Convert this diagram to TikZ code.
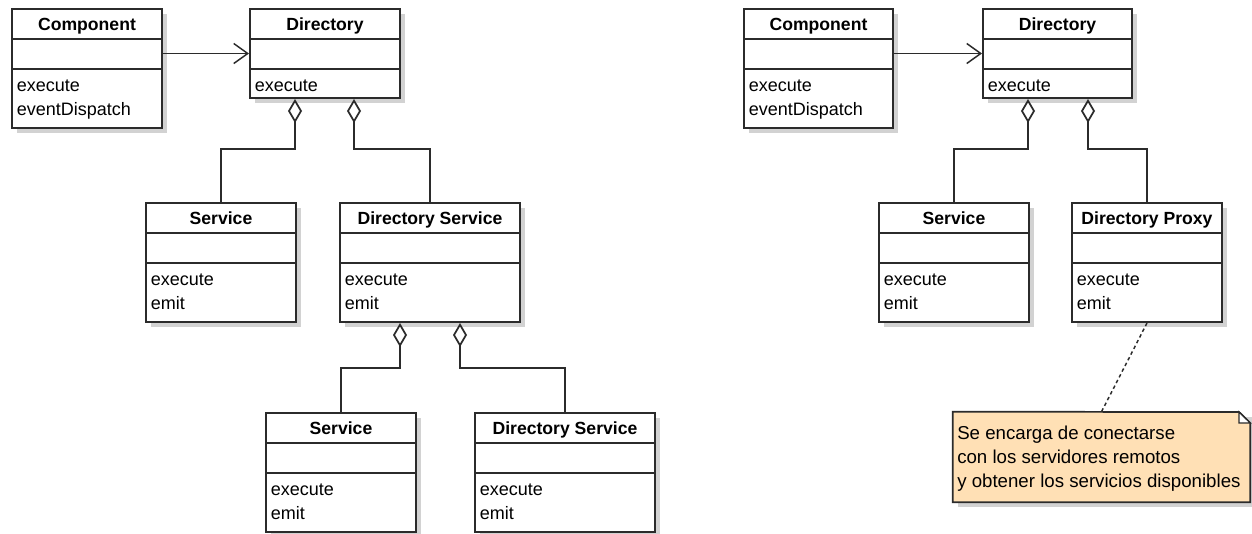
\documentclass[tikz,border=0pt]{standalone}
\usepackage{fontspec}
\setmainfont{Liberation Sans}
\usetikzlibrary{arrows.meta,calc,fit}

\definecolor{linec}{HTML}{2B2B2B}
\definecolor{shadowc}{HTML}{D2D2D2}
\definecolor{notefill}{HTML}{FFE0B5}

\tikzset{
  classbox/.style={draw=linec, line width=1.5pt, fill=white, inner sep=0pt},
  divider/.style={draw=linec, line width=1.5pt},
  shadowbox/.style={fill=shadowc},
  titletext/.style={font=\fontsize{13.2pt}{16pt}\selectfont\bfseries, anchor=base, inner sep=0pt, text=black},
  optext/.style={font=\fontsize{13.5pt}{16pt}\selectfont, anchor=base west, inner sep=0pt, text=black},
  notetext/.style={font=\fontsize{14pt}{16pt}\selectfont, anchor=base west, inner sep=0pt, text=black},
  agg/.style={draw=linec, line width=1.3pt, -{Diamond[open, length=18pt, width=10.5pt]}},
  assoc/.style={draw=linec, line width=1.1pt, -{Straight Barb[length=10.5pt, width=15pt, line width=1.1pt]}},
  notelink/.style={draw=linec, line width=1.1pt, dash pattern=on 2.6pt off 2.2pt},
}

% UML class: name, x1, y1, x2, y2, title, operations (comma list)
\newcommand\umlclass[7]{%
  \fill[shadowbox] (#2+5,#3+5) rectangle (#4+5,#5+5);
  \node[classbox, fit={(#2,#3)(#4,#5)}] (#1) {};
  \draw[divider] (#2,#3+29.5) -- (#4,#3+29.5);
  \draw[divider] (#2,#3+60) -- (#4,#3+60);
  \node[titletext] (#1-title) at ($(#1.north)+(0,22)$) {#6};
  \foreach \op [count=\i] in {#7}
    \node[optext] (#1-op\i) at (#2+4.5, #3+60+22.5+24*\i-24) {\op};
}

\begin{document}
\begin{tikzpicture}[x=0.75pt, y=-0.75pt]
  \useasboundingbox (0,0) rectangle (1252,533);
  \fill[white] (0,0) rectangle (1252,533);

  % ---------- left diagram ----------
  \umlclass{compL}{12}{9}{162}{128}{Component}{execute,eventDispatch}
  \umlclass{dirL}{250}{9}{400}{98}{Directory}{execute}
  \umlclass{svcL}{146}{203}{296}{322}{Service}{execute,emit}
  \umlclass{dsvcL}{340}{203}{520}{322}{Directory Service}{execute,emit}
  \umlclass{svcLL}{266}{413}{416}{532}{Service}{execute,emit}
  \umlclass{dsvcLL}{475}{413}{655}{532}{Directory Service}{execute,emit}

  \draw[assoc] (compL.east |- dirL.west) -- (dirL.west);
  \draw[agg] (svcL.north) |- ($(dirL.south)+(-30,50)$) -- ($(dirL.south)+(-30,0)$);
  \draw[agg] (dsvcL.north) |- ($(dirL.south)+(29,50)$) -- ($(dirL.south)+(29,0)$);
  \draw[agg] (svcLL.north) |- ($(dsvcL.south)+(-30,45)$) -- ($(dsvcL.south)+(-30,0)$);
  \draw[agg] (dsvcLL.north) |- ($(dsvcL.south)+(30,45)$) -- ($(dsvcL.south)+(30,0)$);

  % ---------- right diagram ----------
  \umlclass{compR}{744}{9}{893}{128}{Component}{execute,eventDispatch}
  \umlclass{dirR}{983}{9}{1132}{98}{Directory}{execute}
  \umlclass{svcR}{879}{203}{1029}{322}{Service}{execute,emit}
  \umlclass{proxyR}{1072}{203}{1222}{322}{Directory Proxy}{execute,emit}

  \draw[assoc] (compR.east |- dirR.west) -- (dirR.west);
  \draw[agg] (svcR.north) |- ($(dirR.south)+(-29.5,50)$) -- ($(dirR.south)+(-29.5,0)$);
  \draw[agg] (proxyR.north) |- ($(dirR.south)+(30.5,50)$) -- ($(dirR.south)+(30.5,0)$);

  % ---------- note ----------
  \fill[shadowbox] (958,417) rectangle (1256,507);
  \node[inner sep=0pt, fit={(953,412)(1250,502)}] (note) {};
  \draw[linec, line width=1.3pt, fill=notefill]
    (note.north west) -- (1239,412) -- (note.north east |- 0,423) -- (note.south east) -- (note.south west) -- cycle;
  \draw[linec, line width=1pt, fill=white]
    (1239,412) -- (1239,423) -- (note.north east |- 0,423) -- cycle;
  \node[notetext] (note-l1) at (957,439) {Se encarga de conectarse};
  \node[notetext] (note-l2) at (957,463) {con los servidores remotos};
  \node[notetext] (note-l3) at (957,487) {y obtener los servicios disponibles};
  \draw[notelink] (proxyR.south) -- (note.north);
\end{tikzpicture}
\end{document}
